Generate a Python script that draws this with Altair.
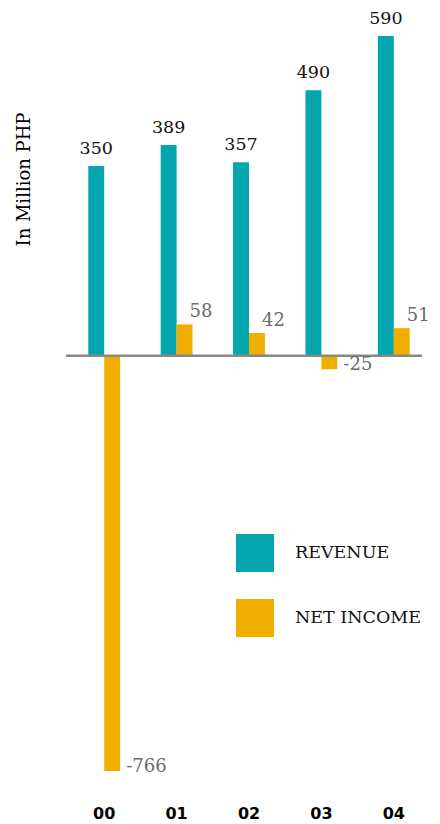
import altair as alt
import pandas as pd

years = ["00", "01", "02", "03", "04"]
revenue = [350, 389, 357, 490, 590]
net_income = [-766, 58, 42, -25, 51]
series_names = ["REVENUE", "NET INCOME"]
colors = ["#03A6AD", "#F0AF00"]

rows = []
for y, r, n in zip(years, revenue, net_income):
    rows.append({"year": y, "series": series_names[0], "value": r})
    rows.append({"year": y, "series": series_names[1], "value": n})
df = pd.DataFrame(rows)

SERIF = "DejaVu Serif"

x_enc = alt.X("year:N", sort=years, title=None,
              scale=alt.Scale(paddingInner=0.56, paddingOuter=0.28),
              axis=alt.Axis(domain=False, ticks=False, labelAngle=0,
                            labelFont="DejaVu Sans", labelFontWeight="bold",
                            labelFontSize=16, labelColor="#000",
                            labelPadding=34))
y_enc = alt.Y("value:Q", title="In Million PHP",
              scale=alt.Scale(domain=[-766, 590], nice=False, zero=True),
              axis=alt.Axis(domain=False, ticks=False, labels=False, grid=False,
                            titleFont=SERIF, titleFontSize=18, titleFontWeight="normal",
                            titleColor="#000", titleX=-35, titleY=143,
                            titleAngle=-90, titleAlign="center", titleBaseline="bottom"))
xoff = alt.XOffset("series:N", sort=series_names)

base = alt.Chart(df).transform_calculate(label="toString(datum.value)")

bars = base.mark_bar().encode(
    x=x_enc,
    xOffset=xoff,
    y=y_enc,
    color=alt.Color("series:N",
                    scale=alt.Scale(domain=series_names, range=colors),
                    legend=alt.Legend(title=None, orient="none", legendX=168, legendY=498,
                                      symbolType="square", symbolSize=1444,
                                      symbolStrokeWidth=0, rowPadding=27, labelOffset=21,
                                      labelFont=SERIF, labelFontSize=17.5, labelColor="#111",
                                      labelLimit=300)),
)

zero = alt.Chart(pd.DataFrame({"v": [0]})).mark_rule(color="#888888", strokeWidth=2.5).encode(
    y="v:Q", x=alt.value(-2), x2=alt.value(354)
)

rev_labels = base.transform_filter(alt.datum.series == series_names[0]).mark_text(
    font=SERIF, fontSize=17.5, color="#111", baseline="bottom", dy=-8
).encode(x=alt.X("year:N", sort=years), xOffset=xoff, y="value:Q", text="label:N")

ni_pos = base.transform_filter(
    (alt.datum.series == series_names[1]) & (alt.datum.value > 0)
).mark_text(
    font=SERIF, fontSize=18, color="#6b6b6b", baseline="bottom", align="left", dx=5, dy=-3
).encode(x=alt.X("year:N", sort=years), xOffset=xoff, y="value:Q", text="label:N")

ni_neg = base.transform_filter(
    (alt.datum.series == series_names[1]) & (alt.datum.value < 0)
).mark_text(
    font=SERIF, fontSize=18, color="#6b6b6b", baseline="middle", align="left", dx=14, dy=-4
).encode(x=alt.X("year:N", sort=years), xOffset=xoff, y="value:Q", text="label:N")

chart = alt.layer(bars, zero, rev_labels, ni_pos, ni_neg).properties(
    width=362, height=735,
    autosize=alt.AutoSizeParams(type="none"),
    padding={"left": 60, "top": 28, "right": 2, "bottom": 52},
).configure_view(stroke=None).configure_scale(offsetBandPaddingInner=0.0)

chart.save("out.html", embed_options={"renderer": "svg", "actions": False})
